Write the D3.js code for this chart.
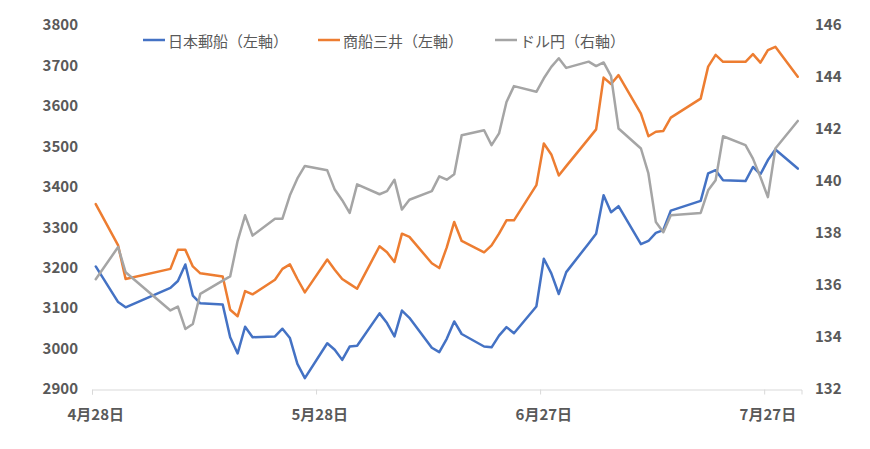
<!DOCTYPE html>
<html><head><meta charset="utf-8">
<script src="https://cdn.jsdelivr.net/npm/d3@7"></script>
<style>
html,body{margin:0;padding:0;background:#fff;}
svg{display:block;font-family:"Noto Sans CJK JP","Noto Sans",sans-serif;}
</style></head>
<body><svg id="c" width="870" height="449"></svg>
<script>
const dates = ["2023-04-28","2023-05-01","2023-05-02","2023-05-08","2023-05-09","2023-05-10","2023-05-11","2023-05-12",
"2023-05-15","2023-05-16","2023-05-17","2023-05-18","2023-05-19","2023-05-22","2023-05-23","2023-05-24","2023-05-25","2023-05-26",
"2023-05-29","2023-05-30","2023-05-31","2023-06-01","2023-06-02","2023-06-05","2023-06-06","2023-06-07","2023-06-08","2023-06-09",
"2023-06-12","2023-06-13","2023-06-14","2023-06-15","2023-06-16","2023-06-19","2023-06-20","2023-06-21","2023-06-22","2023-06-23",
"2023-06-26","2023-06-27","2023-06-28","2023-06-29","2023-06-30","2023-07-03","2023-07-04","2023-07-05","2023-07-06","2023-07-07",
"2023-07-10","2023-07-11","2023-07-12","2023-07-13","2023-07-14","2023-07-18","2023-07-19","2023-07-20","2023-07-21",
"2023-07-24","2023-07-25","2023-07-26","2023-07-27","2023-07-28","2023-07-31"];

const nyk = [3203,3115,3102,3150,3167,3208,3131,3112,
3109,3028,2988,3054,3028,3030,3049,3026,2962,2927,
3013,2997,2972,3005,3007,3087,3063,3030,3094,3076,
3002,2991,3024,3067,3036,3005,3003,3032,3053,3038,
3104,3222,3186,3135,3189,3260,3284,3379,3337,3352,
3258,3266,3286,3293,3341,3365,3433,3441,3416,
3414,3449,3431,3466,3492,3445];

const mol = [3357,3255,3172,3197,3244,3244,3203,3186,
3178,3096,3080,3142,3134,3170,3197,3208,3172,3139,
3220,3195,3172,3160,3148,3253,3238,3214,3284,3276,
3211,3199,3250,3313,3266,3238,3255,3284,3317,3317,
3404,3507,3480,3428,3451,3519,3542,3670,3654,3676,
3581,3525,3536,3538,3571,3618,3697,3726,3709,
3709,3728,3707,3738,3746,3672];

const usdjpy = [136.22,137.46,136.49,135.02,135.17,134.31,134.50,135.66,
136.17,136.33,137.70,138.68,137.90,138.55,138.55,139.45,140.10,140.58,
140.41,139.67,139.26,138.77,139.87,139.49,139.61,140.05,138.90,139.28,
139.61,140.18,140.05,140.26,141.76,141.95,141.38,141.83,143.04,143.65,
143.43,143.95,144.39,144.72,144.35,144.59,144.42,144.56,144.03,142.02,
141.25,140.29,138.42,138.03,138.68,138.77,139.64,140.03,141.72,
141.38,140.86,140.15,139.38,141.25,142.31];

const leftTicks = [2900,3000,3100,3200,3300,3400,3500,3600,3700,3800];
const rightTicks = [132,134,136,138,140,142,144,146];
const xTickDates = ["2023-04-28","2023-05-28","2023-06-27","2023-07-27"];
const seriesNames = ["日本郵船（左軸）","商船三井（左軸）","ドル円（右軸）"];
const seriesColors = ["#4472C4","#ED7D31","#A5A5A5"];

const svg = d3.select("#c");
const parse = d3.timeParse("%Y-%m-%d");
const noon = s => d3.timeHour.offset(parse(s), 12);

const x = d3.scaleTime().domain([parse("2023-04-28"), parse("2023-08-01")]).range([92, 801.5]);
const yL = d3.scaleLinear().domain([2900, 3800]).range([389, 25]);
const yR = d3.scaleLinear().domain([132, 146]).range([389, 25]);

const textCol = "#595959";

// x axis line + tick marks
const xAxis = d3.axisBottom(x).tickValues(xTickDates.map(parse)).tickSize(5).tickFormat("");
const gx = svg.append("g").attr("transform","translate(0,389.5)").call(xAxis);
gx.select(".domain").attr("stroke","#d9d9d9").attr("stroke-width",1);
gx.selectAll(".tick line").attr("stroke","#d9d9d9");

// x labels centered on day bins
svg.append("g").selectAll("text").data(xTickDates).join("text")
  .attr("x", d => x(noon(d))).attr("y", 413)
  .attr("text-anchor","middle").attr("dominant-baseline","central")
  .attr("fill", textCol).attr("font-size",15).attr("font-weight",700)
  .text(d => { const t = parse(d); return (t.getMonth()+1) + "月" + t.getDate() + "日"; });

// left axis labels
const gl = svg.append("g").attr("transform","translate(78,0)")
  .call(d3.axisLeft(yL).tickValues(leftTicks).tickSize(0).tickPadding(0).tickFormat(d3.format("d")));
gl.select(".domain").remove();
gl.selectAll("text").attr("fill",textCol).attr("font-size",15).attr("font-weight",700)
  .attr("font-family",'"Noto Sans CJK JP","Noto Sans",sans-serif');

// right axis labels
const gr = svg.append("g").attr("transform","translate(815,0)")
  .call(d3.axisRight(yR).tickValues(rightTicks).tickSize(0).tickPadding(0).tickFormat(d3.format("d")));
gr.select(".domain").remove();
gr.selectAll("text").attr("fill",textCol).attr("font-size",15).attr("font-weight",700)
  .attr("font-family",'"Noto Sans CJK JP","Noto Sans",sans-serif');

// lines
const mk = (vals, ys) => d3.line().x((d,i) => x(noon(dates[i]))).y(d => ys(d))(vals);
const series = [[nyk, yL],[mol, yL],[usdjpy, yR]];
series.forEach((s, i) => {
  svg.append("path").attr("d", mk(s[0], s[1])).attr("fill","none")
    .attr("stroke", seriesColors[i]).attr("stroke-width",2.5)
    .attr("stroke-linejoin","round").attr("stroke-linecap","round");
});

// legend
const legX = [143, 318, 495];
const lg = svg.append("g");
seriesNames.forEach((n, i) => {
  lg.append("line").attr("x1", legX[i]).attr("x2", legX[i]+22).attr("y1",40).attr("y2",40)
    .attr("stroke", seriesColors[i]).attr("stroke-width",2.5);
  lg.append("text").attr("x", legX[i]+25).attr("y",40).attr("dominant-baseline","central")
    .attr("fill", textCol).attr("font-size",15).text(n);
});
</script></body></html>
